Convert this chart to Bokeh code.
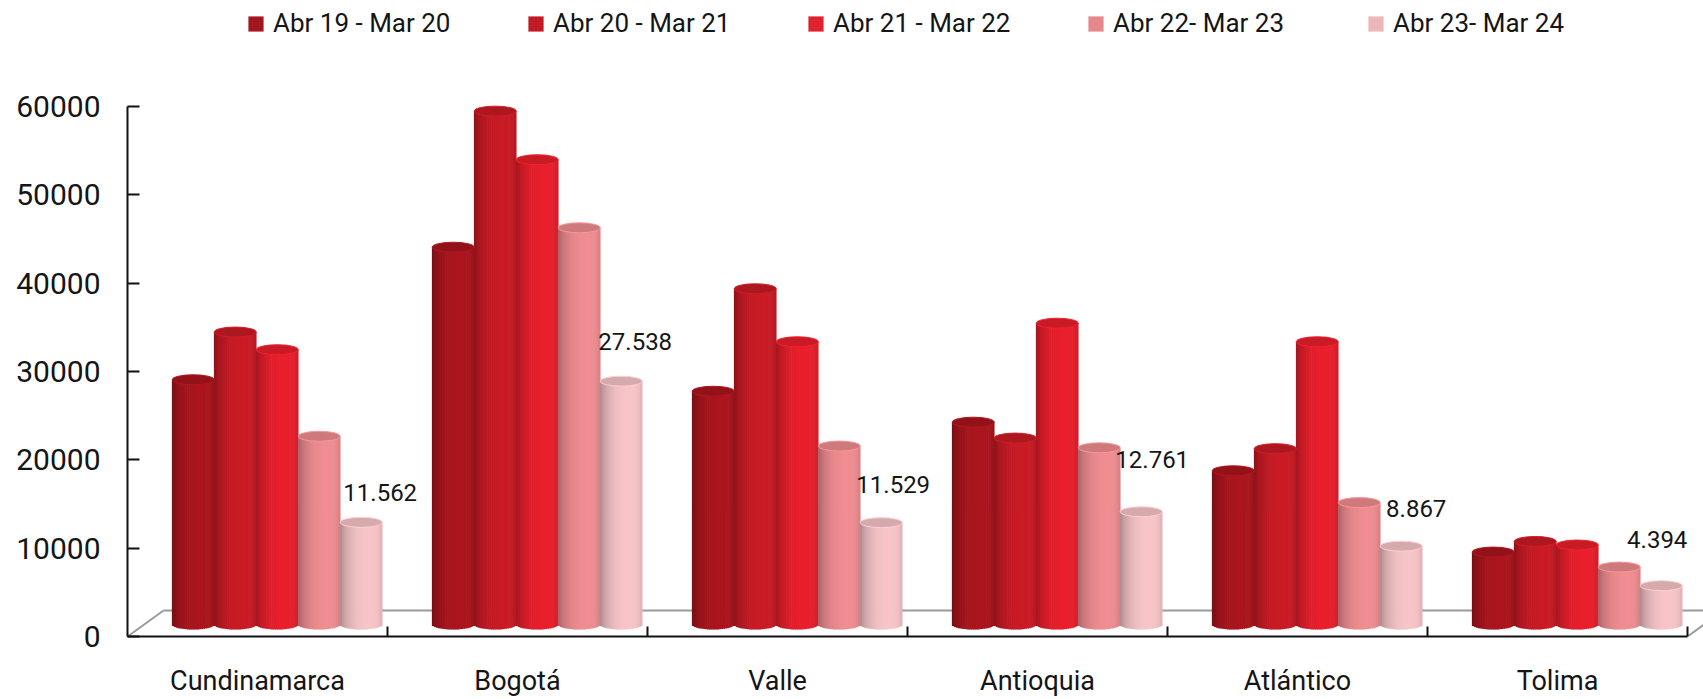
import numpy as np
from bokeh.plotting import figure
from bokeh.models import ColumnDataSource, FixedTicker, Legend, LegendItem, Range1d
from bokeh.embed import file_html
from bokeh.resources import INLINE

# ---- data -------------------------------------------------------------
departments = ["Cundinamarca", "Bogotá", "Valle", "Antioquia", "Atlántico", "Tolima"]
periods = ["Abr 19 - Mar 20", "Abr 20 - Mar 21", "Abr 21 - Mar 22",
           "Abr 22- Mar 23", "Abr 23- Mar 24"]
abr19_mar20 = [27700, 42700, 26400, 22900, 17400, 8200]
abr20_mar21 = [33100, 58100, 38000, 21100, 19900, 9400]
abr21_mar22 = [31100, 52600, 32000, 34100, 32000, 9000]
abr22_mar23 = [21300, 44900, 20200, 20000, 13800, 6500]
abr23_mar24 = [11562, 27538, 11529, 12761, 8867, 4394]
y_ticks = [0, 10000, 20000, 30000, 40000, 50000, 60000]

series = [abr19_mar20, abr20_mar21, abr21_mar22, abr22_mar23, abr23_mar24]

# ---- styling ----------------------------------------------------------
peak_rgb = [(172, 22, 30), (202, 28, 38), (234, 32, 45), (240, 142, 146), (248, 198, 201)]
legend_colors = ["#A3161D", "#C21B25", "#E0222C", "#E4888B", "#ECB7B9"]
FONT = "Roboto"
TXT = "#151515"

W, H = 1703, 699
LEFT, BOTTOM = 127, 62
frame_h = H - BOTTOM
px_x = 260.0                      # pixels per department slot
y_end = frame_h * 60000 / 531.0   # 60000 sits 531 px above the floor
px_y = y_end / frame_h            # data units per screen pixel

BASE = 12 * px_y                  # cylinders stand mid-depth on the floor
HB = 5 * px_y                     # half height of the bottom ellipse
TOP_H = 10 * px_y                 # height of the top ellipse
DEPTH_X = 36 / px_x               # floor depth, horizontal
DEPTH_Y = 26 * px_y               # floor depth, vertical
GROUP_X0 = 0.172                  # first cylinder's left edge inside a slot
BW = 42 / px_x                    # cylinder width
NSTRIP = 22

p = figure(width=W, height=H, output_backend="svg", toolbar_location=None,
           x_range=Range1d(0, (W - LEFT) / px_x), y_range=Range1d(0, y_end),
           min_border_left=LEFT, min_border_right=0, min_border_top=0,
           min_border_bottom=BOTTOM)
p.outline_line_color = None
p.grid.visible = False
p.background_fill_color = "white"
p.border_fill_color = "white"

# ---- floor ------------------------------------------------------------
n = len(departments)
p.line([DEPTH_X, (W - LEFT) / px_x + 0.2], [DEPTH_Y, DEPTH_Y], line_color="#9a9a9a", line_width=2)
p.line([0, DEPTH_X], [0, DEPTH_Y], line_color="#9a9a9a", line_width=2)
p.line([n, n + DEPTH_X], [0, DEPTH_Y], line_color="#9a9a9a", line_width=2)

# ---- cylinders: shaded vertical strips + elliptical top ----------------
u = -1 + (2 * np.arange(NSTRIP) + 1) / NSTRIP
theta = np.arcsin(u)
shade = 0.72 + 0.28 * np.clip(np.cos(theta - 0.4), 0, None) ** 0.8

sx, sw, stop, sbot, scol = [], [], [], [], []
ex, ey, ecol, eline = [], [], [], []
for j, vals in enumerate(series):
    r, g, b = peak_rgb[j]
    for i, v in enumerate(vals):
        cx = i + GROUP_X0 + (j + 0.5) * BW
        for k in range(NSTRIP):
            sx.append(cx + u[k] * BW / 2)
            sw.append(BW / NSTRIP * 1.35)
            stop.append(BASE + v)
            sbot.append(BASE - HB * np.sqrt(max(0.0, 1 - u[k] ** 2)))
            f = shade[k]
            scol.append("#%02x%02x%02x" % (int(r * f), int(g * f), int(b * f)))
        ex.append(cx)
        ey.append(BASE + v)
        ecol.append("#%02x%02x%02x" % (int(r * 0.86), int(g * 0.86), int(b * 0.86)))
        eline.append("#%02x%02x%02x" % (min(255, int(r * 1.05)), min(255, int(g * 1.05)), min(255, int(b * 1.05))))

strips = ColumnDataSource(dict(x=sx, w=sw, top=stop, bottom=sbot, color=scol))
p.vbar(x="x", width="w", top="top", bottom="bottom", fill_color="color",
       line_color=None, source=strips)
tops = ColumnDataSource(dict(x=ex, y=ey, fill=ecol, line=eline))
p.ellipse(x="x", y="y", width=BW, height=TOP_H, fill_color="fill",
          line_color="line", line_width=1, source=tops)

# ---- value labels on the latest period ----------------------------------
label_dx = [19, 14, 12, 11, 15, -4]
label_dy = [-30, -40, -38, -52, -38, -46]
last = abr23_mar24
lab = ColumnDataSource(dict(
    x=[i + GROUP_X0 + 4.5 * BW for i in range(n)],
    y=[BASE + v for v in last],
    text=[f"{v:,}".replace(",", ".") for v in last],
    dx=label_dx, dy=label_dy))
p.text(x="x", y="y", text="text", x_offset="dx", y_offset="dy", source=lab,
       text_align="center", text_baseline="middle", text_font_size="24px",
       text_color=TXT, text_font={"value": FONT})

# ---- axes -------------------------------------------------------------
xa = p.xaxis[0]
xa.ticker = FixedTicker(ticks=[i + 0.5 for i in range(n)], minor_ticks=list(range(1, n + 1)))
xa.major_label_overrides = {i + 0.5: d for i, d in enumerate(departments)}
xa.bounds = (0, n)
xa.axis_line_color = "#111111"
xa.axis_line_width = 2
xa.major_tick_in = 0
xa.major_tick_out = 0
xa.minor_tick_in = 10
xa.minor_tick_out = 0
xa.minor_tick_line_color = "#111111"
xa.minor_tick_line_width = 2
xa.major_label_standoff = 28
xa.major_label_text_font = FONT
xa.major_label_text_font_size = "27px"
xa.major_label_text_color = TXT

ya = p.yaxis[0]
ya.ticker = FixedTicker(ticks=y_ticks)
ya.major_label_overrides = {t: str(t) for t in y_ticks}
ya.bounds = (0, 60000)
ya.axis_line_color = "#111111"
ya.axis_line_width = 2
ya.major_tick_in = 12
ya.major_tick_out = 0
ya.major_tick_line_color = "#111111"
ya.major_tick_line_width = 2
ya.minor_tick_in = 0
ya.minor_tick_out = 0
ya.major_label_standoff = 27
ya.major_label_text_font = FONT
ya.major_label_text_font_size = "30px"
ya.major_label_text_color = TXT

# ---- legend (swatches come from off-range single bars) ------------------
items = []
for j, name in enumerate(periods):
    r = p.vbar(x=[-5], top=[1], bottom=[0], width=0.1,
               fill_color=legend_colors[j], line_color=None)
    items.append(LegendItem(label=name, renderers=[r], index=0))
legend = Legend(items=items, orientation="horizontal", location=(119, 598),
                glyph_width=19, glyph_height=19, label_standoff=8, label_width=240,
                spacing=13, padding=0, margin=0, border_line_color=None,
                background_fill_alpha=0, label_text_font=FONT,
                label_text_font_size="26px", label_text_color=TXT)
p.add_layout(legend)

open("out.html", "w").write(file_html(p, INLINE))
